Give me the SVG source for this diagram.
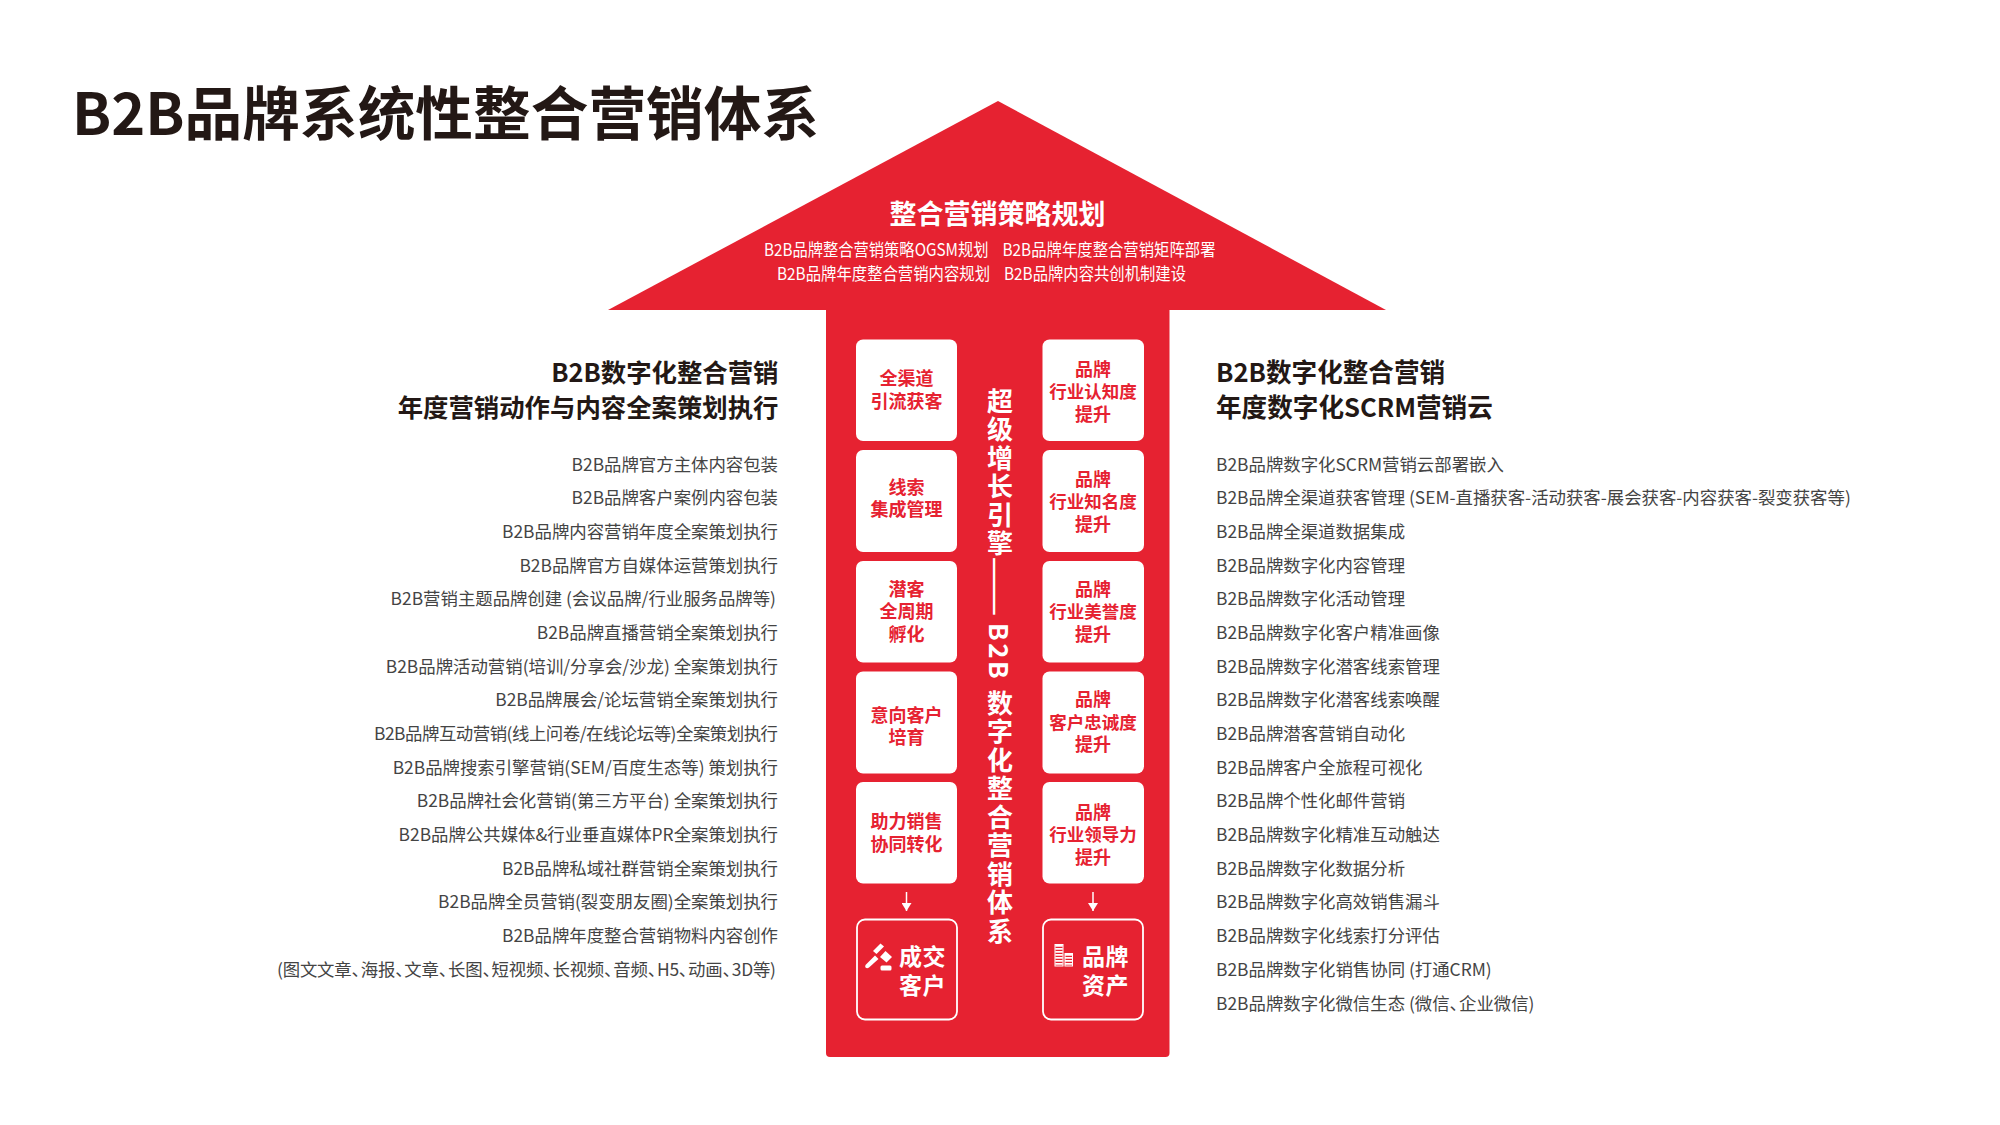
<svg xmlns="http://www.w3.org/2000/svg" width="2000" height="1125" viewBox="0 0 2000 1125">
<defs>
<style>
text{font-family:"Noto Sans CJK SC","Noto Sans",sans-serif}
.title{font-size:57.700px;font-weight:700;fill:#231815}
.hd{font-size:25.600px;font-weight:700;fill:#231815}
.hl{text-anchor:end;font-size:25.400px}
.ln{font-size:17.400px;fill:#444;font-weight:400}
.le{text-anchor:end}
.sm{font-size:16.800px;fill:#fff;font-weight:400}
.card{fill:#fff}
.ct{font-size:18px;font-weight:700;fill:#e62231;text-anchor:middle}
.cr{font-size:17.500px}
.ol{fill:none;stroke:#fff;stroke-width:1.800}
.ot{font-size:23px;font-weight:700;fill:#fff;letter-spacing:.5px}
.vt{font-size:26px;font-weight:700;fill:#fff;writing-mode:vertical-rl;letter-spacing:2.500px}
.nc{letter-spacing:-8px}
.nd{letter-spacing:-7px}
</style>
<marker id="ah" markerUnits="userSpaceOnUse" markerWidth="10" markerHeight="10" refX="8" refY="5" orient="auto" viewBox="0 0 10 10"><path d="M0 0L8 5L0 10Z" fill="#fff"/></marker>
</defs>
<rect width="2000" height="1125" fill="#fff"/>
<text class="title" x="72" y="135">B2B品牌系统性整合营销体系</text>
<g id="arrow-shape" fill="#e62231">
<path d="M998 101L1386 310L608 310Z"/>
<path d="M826 310H1169.500V1053a4 4 0 0 1-4 4H830a4 4 0 0 1-4-4Z"/>
</g>
<g id="strategy">
<text x="997.500" y="224" text-anchor="middle" font-size="27" font-weight="700" fill="#fff">整合营销策略规划</text>
<text class="sm" x="764" y="256" textLength="224.500" lengthAdjust="spacingAndGlyphs">B2B品牌整合营销策略OGSM规划</text>
<text class="sm" x="1002.500" y="256" textLength="213" lengthAdjust="spacingAndGlyphs">B2B品牌年度整合营销矩阵部署</text>
<text class="sm" x="777" y="280" textLength="213" lengthAdjust="spacingAndGlyphs">B2B品牌年度整合营销内容规划</text>
<text class="sm" x="1004" y="280" textLength="182" lengthAdjust="spacingAndGlyphs">B2B品牌内容共创机制建设</text>
</g>
<g id="left-list">
<text class="hd hl" x="778.500" y="382">B2B数字化整合营销</text>
<text class="hd hl" x="778.500" y="417">年度营销动作与内容全案策划执行</text>
<text class="ln le" x="778" y="471">B2B品牌官方主体内容包装</text>
<text class="ln le" x="778" y="504.200">B2B品牌客户案例内容包装</text>
<text class="ln le" x="778" y="538">B2B品牌内容营销年度全案策划执行</text>
<text class="ln le" x="778" y="571.700">B2B品牌官方自媒体运营策划执行</text>
<text class="ln le" x="776" y="605">B2B营销主题品牌创建 (会议品牌/行业服务品牌等)</text>
<text class="ln le" x="778" y="639">B2B品牌直播营销全案策划执行</text>
<text class="ln le" x="778" y="672.700">B2B品牌活动营销(培训/分享会/沙龙) 全案策划执行</text>
<text class="ln le" x="778" y="706">B2B品牌展会/论坛营销全案策划执行</text>
<text class="ln le" x="778" y="740" textLength="404">B2B品牌互动营销(线上问卷/在线论坛等)全案策划执行</text>
<text class="ln le" x="778" y="773.500">B2B品牌搜索引擎营销(SEM/百度生态等) 策划执行</text>
<text class="ln le" x="778" y="807">B2B品牌社会化营销(第三方平台) 全案策划执行</text>
<text class="ln le" x="778" y="841">B2B品牌公共媒体&amp;行业垂直媒体PR全案策划执行</text>
<text class="ln le" x="778" y="874.700">B2B品牌私域社群营销全案策划执行</text>
<text class="ln le" x="778" y="908">B2B品牌全员营销(裂变朋友圈)全案策划执行</text>
<text class="ln le" x="778" y="942">B2B品牌年度整合营销物料内容创作</text>
<text class="ln le" x="776" y="976" textLength="499">(图文文章<tspan class="nc">、</tspan>海报<tspan class="nc">、</tspan>文章<tspan class="nc">、</tspan>长图<tspan class="nc">、</tspan>短视频<tspan class="nc">、</tspan>长视频<tspan class="nc">、</tspan>音频<tspan class="nc">、</tspan>H5<tspan class="nc">、</tspan>动画<tspan class="nc">、</tspan>3D等)</text>
</g>
<g id="right-list">
<text class="hd" x="1216" y="382">B2B数字化整合营销</text>
<text class="hd" x="1216" y="417">年度数字化SCRM营销云</text>
<text class="ln" x="1216" y="471">B2B品牌数字化SCRM营销云部署嵌入</text>
<text class="ln" x="1216" y="504.200">B2B品牌全渠道获客管理 (SEM-直播获客-活动获客-展会获客-内容获客-裂变获客等)</text>
<text class="ln" x="1216" y="538">B2B品牌全渠道数据集成</text>
<text class="ln" x="1216" y="571.700">B2B品牌数字化内容管理</text>
<text class="ln" x="1216" y="605">B2B品牌数字化活动管理</text>
<text class="ln" x="1216" y="639">B2B品牌数字化客户精准画像</text>
<text class="ln" x="1216" y="672.700">B2B品牌数字化潜客线索管理</text>
<text class="ln" x="1216" y="706">B2B品牌数字化潜客线索唤醒</text>
<text class="ln" x="1216" y="740">B2B品牌潜客营销自动化</text>
<text class="ln" x="1216" y="773.500">B2B品牌客户全旅程可视化</text>
<text class="ln" x="1216" y="807">B2B品牌个性化邮件营销</text>
<text class="ln" x="1216" y="841">B2B品牌数字化精准互动触达</text>
<text class="ln" x="1216" y="874.700">B2B品牌数字化数据分析</text>
<text class="ln" x="1216" y="908">B2B品牌数字化高效销售漏斗</text>
<text class="ln" x="1216" y="942">B2B品牌数字化线索打分评估</text>
<text class="ln" x="1216" y="976">B2B品牌数字化销售协同 (打通CRM)</text>
<text class="ln" x="1216" y="1009.500">B2B品牌数字化微信生态 (微信<tspan class="nc">、</tspan>企业微信)</text>
</g>
<g id="engine">
<text class="vt" x="1000" y="388">超级增长引擎</text>
<text class="vt" x="999" y="556.500" style="letter-spacing:0;font-size:35.700px;font-weight:400">——</text>
<text class="vt" x="1000" y="623">B2B</text>
<text class="vt" x="1000" y="690">数字化整合营销体系</text>
</g>
<g id="card-l1"><rect class="card" x="856" y="339.500" width="101" height="101.500" rx="7"/><text class="ct" x="906.500" y="384.500">全渠道</text><text class="ct" x="906.500" y="407.500">引流获客</text></g>
<g id="card-l2"><rect class="card" x="856" y="450" width="101" height="102" rx="7"/><text class="ct" x="906.500" y="493.500">线索</text><text class="ct" x="906.500" y="515.500">集成管理</text></g>
<g id="card-l3"><rect class="card" x="856" y="561" width="101" height="101.500" rx="7"/><text class="ct" x="906.500" y="595.500">潜客</text><text class="ct" x="906.500" y="617.500">全周期</text><text class="ct" x="906.500" y="640.500">孵化</text></g>
<g id="card-l4"><rect class="card" x="856" y="671.500" width="101" height="102" rx="7"/><text class="ct" x="906.500" y="721.500">意向客户</text><text class="ct" x="906.500" y="743.500">培育</text></g>
<g id="card-l5"><rect class="card" x="856" y="782" width="101" height="101.500" rx="7"/><text class="ct" x="906.500" y="827.500">助力销售</text><text class="ct" x="906.500" y="850.500">协同转化</text></g>
<g id="card-r1"><rect class="card" x="1042.500" y="339.500" width="101.500" height="101.500" rx="7"/><text class="ct" x="1093" y="375.500">品牌</text><text class="ct cr" x="1093" y="397.500">行业认知度</text><text class="ct" x="1093" y="420.500">提升</text></g>
<g id="card-r2"><rect class="card" x="1042.500" y="450" width="101.500" height="102" rx="7"/><text class="ct" x="1093" y="485.500">品牌</text><text class="ct cr" x="1093" y="507.500">行业知名度</text><text class="ct" x="1093" y="530.500">提升</text></g>
<g id="card-r3"><rect class="card" x="1042.500" y="561" width="101.500" height="101.500" rx="7"/><text class="ct" x="1093" y="595.500">品牌</text><text class="ct cr" x="1093" y="617.500">行业美誉度</text><text class="ct" x="1093" y="640.500">提升</text></g>
<g id="card-r4"><rect class="card" x="1042.500" y="671.500" width="101.500" height="102" rx="7"/><text class="ct" x="1093" y="705.500">品牌</text><text class="ct cr" x="1093" y="728.500">客户忠诚度</text><text class="ct" x="1093" y="750.500">提升</text></g>
<g id="card-r5"><rect class="card" x="1042.500" y="782" width="101.500" height="101.500" rx="7"/><text class="ct" x="1093" y="818.500">品牌</text><text class="ct cr" x="1093" y="840.500">行业领导力</text><text class="ct" x="1093" y="863.500">提升</text></g>
<g id="outcome-deal">
<rect class="ol" x="857" y="919.500" width="100" height="100" rx="8"/>
<g fill="#fff"><path d="M866 964.500L875 955.500L878.500 959L869 967.500Q867 969 865.500 967.500Q864.500 966 866 964.500Z"/><path d="M873 951L880.500 943.500L884 946.500L876.500 954Z"/><path d="M880 957L885.500 951L892 957L886.500 962.500Z"/><rect x="880.500" y="965.500" width="11" height="5" rx="1.500"/></g>
<text class="ot"><tspan x="899" y="965">成交</tspan><tspan x="899" y="994">客户</tspan></text>
</g>
<g id="outcome-brand">
<rect class="ol" x="1043" y="919.500" width="100" height="100" rx="8"/>
<g stroke="#fff" fill="none" stroke-width="1"><rect x="1055" y="944.500" width="8" height="21.500"/><rect x="1065" y="953.500" width="7.500" height="12.500"/></g>
<g fill="none" stroke="#fff" stroke-dasharray="1.800 1.200" stroke-width="7.500"><path d="M1059 945V966"/><path d="M1068.700 954V966"/></g>
<text class="ot"><tspan x="1082" y="965">品牌</tspan><tspan x="1082" y="994">资产</tspan></text>
</g>
<g id="connectors" stroke="#fff" stroke-width="1.500" fill="none">
<path d="M906.500 892V911" marker-end="url(#ah)"/>
<path d="M1093 892V911" marker-end="url(#ah)"/>
</g>
</svg>
